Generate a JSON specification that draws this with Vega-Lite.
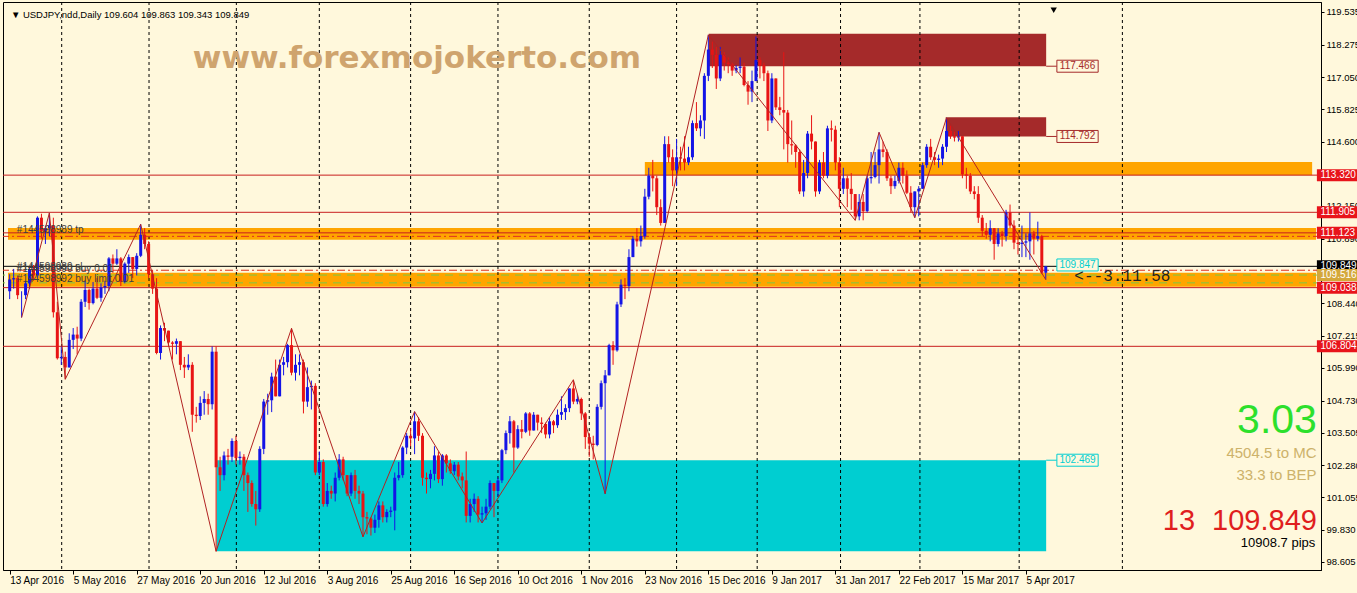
{
"$schema":"https://vega.github.io/schema/vega-lite/v6.json",
"width":1318,"height":568,"autosize":"none",
"padding":{"left":3,"top":2,"right":36,"bottom":23},
"background":"#FFF8DC",
"config":{"view":{"stroke":"#000","strokeWidth":1},"text":{"font":"Liberation Sans"},
 "axis":{"labelOverlap":false,"labelSeparation":0},
 "axisX":{"labelAlign":"left","labelOffset":0,"tickSize":4,"labelPadding":1,"labelFontSize":10,"labelFont":"Liberation Sans","labelColor":"#000","domainColor":"#000","tickColor":"#000","grid":false,"labelOverlap":false,"labelBound":false,"labelFlush":false},
 "axisY":{"tickSize":3,"labelPadding":2,"labelFontSize":9.5,"labelFont":"Liberation Sans","labelColor":"#000","domainColor":"#000","tickColor":"#000","grid":false,"labelOverlap":false,"labelBound":false,"labelFlush":false}},
"datasets":{
"candles":[
{"i":0,"o":108.9,"h":109.55,"l":108.6,"c":109.35},{"i":1,"o":109.35,"h":109.75,"l":109.0,"c":109.4},{"i":2,"o":109.4,"h":109.5,"l":108.6,"c":108.75},{"i":3,"o":108.75,"h":108.9,"l":107.9,"c":108.75},{"i":4,"o":108.75,"h":109.3,"l":108.6,"c":109.2},{"i":5,"o":109.2,"h":109.8,"l":109.0,"c":109.75},{"i":6,"o":109.75,"h":109.9,"l":109.3,"c":109.5},{"i":7,"o":109.5,"h":111.75,"l":109.4,"c":111.7},{"i":8,"o":111.7,"h":111.85,"l":110.9,"c":111.2},{"i":9,"o":111.2,"h":111.4,"l":110.7,"c":111.3},
{"i":10,"o":111.3,"h":111.88,"l":111.0,"c":111.4},{"i":11,"o":111.4,"h":111.7,"l":107.9,"c":108.1},{"i":12,"o":108.1,"h":108.5,"l":106.3,"c":106.35},{"i":13,"o":106.35,"h":106.8,"l":106.1,"c":106.4},{"i":14,"o":106.4,"h":106.6,"l":105.55,"c":106.0},{"i":15,"o":106.0,"h":107.3,"l":106.0,"c":107.05},{"i":16,"o":107.05,"h":107.5,"l":106.7,"c":107.25},{"i":17,"o":107.25,"h":107.55,"l":106.5,"c":107.1},{"i":18,"o":107.1,"h":108.6,"l":107.0,"c":108.5},{"i":19,"o":108.5,"h":109.3,"l":108.3,"c":108.95},
{"i":20,"o":108.95,"h":109.0,"l":108.2,"c":108.45},{"i":21,"o":108.45,"h":109.25,"l":108.4,"c":109.0},{"i":22,"o":109.0,"h":109.4,"l":108.6,"c":108.65},{"i":23,"o":108.65,"h":109.2,"l":108.5,"c":109.05},{"i":24,"o":109.05,"h":109.3,"l":108.8,"c":109.1},{"i":25,"o":109.1,"h":110.2,"l":108.9,"c":110.15},{"i":26,"o":110.15,"h":110.3,"l":109.6,"c":109.95},{"i":27,"o":109.95,"h":110.5,"l":109.9,"c":110.15},{"i":28,"o":110.15,"h":110.2,"l":109.1,"c":109.25},{"i":29,"o":109.25,"h":110.0,"l":109.2,"c":109.95},
{"i":30,"o":109.95,"h":110.3,"l":109.6,"c":110.2},{"i":31,"o":110.2,"h":110.2,"l":109.4,"c":109.75},{"i":32,"o":109.75,"h":110.35,"l":109.5,"c":110.25},{"i":33,"o":110.25,"h":111.45,"l":110.2,"c":111.05},{"i":34,"o":111.05,"h":111.3,"l":110.5,"c":110.7},{"i":35,"o":110.7,"h":110.8,"l":109.4,"c":109.55},{"i":36,"o":109.55,"h":109.7,"l":108.8,"c":109.0},{"i":37,"o":109.0,"h":109.4,"l":106.5,"c":106.55},{"i":38,"o":106.55,"h":107.6,"l":106.3,"c":107.5},{"i":39,"o":107.5,"h":107.7,"l":107.0,"c":107.4},
{"i":40,"o":107.4,"h":107.4,"l":106.8,"c":106.95},{"i":41,"o":106.95,"h":107.0,"l":106.3,"c":106.9},{"i":42,"o":106.9,"h":107.1,"l":106.5,"c":107.0},{"i":43,"o":107.0,"h":107.0,"l":105.9,"c":106.1},{"i":44,"o":106.1,"h":106.4,"l":105.6,"c":106.0},{"i":45,"o":106.0,"h":106.5,"l":105.9,"c":106.1},{"i":46,"o":106.1,"h":106.2,"l":103.55,"c":104.2},{"i":47,"o":104.2,"h":104.5,"l":103.9,"c":104.15},{"i":48,"o":104.15,"h":104.9,"l":104.0,"c":104.65},{"i":49,"o":104.65,"h":105.1,"l":104.2,"c":104.8},
{"i":50,"o":104.8,"h":105.0,"l":104.2,"c":104.6},{"i":51,"o":104.6,"h":106.8,"l":104.4,"c":106.6},{"i":52,"o":106.6,"h":106.8,"l":99.0,"c":102.2},{"i":53,"o":102.2,"h":102.6,"l":101.3,"c":101.9},{"i":54,"o":101.9,"h":102.8,"l":101.7,"c":102.65},{"i":55,"o":102.65,"h":102.9,"l":102.3,"c":102.6},{"i":56,"o":102.6,"h":103.3,"l":102.4,"c":103.2},{"i":57,"o":103.2,"h":103.4,"l":102.3,"c":102.55},{"i":58,"o":102.55,"h":102.8,"l":102.3,"c":102.6},{"i":59,"o":102.6,"h":102.7,"l":101.3,"c":101.9},
{"i":60,"o":101.9,"h":102.0,"l":100.5,"c":101.6},{"i":61,"o":101.6,"h":101.7,"l":100.7,"c":100.8},{"i":62,"o":100.8,"h":101.3,"l":99.98,"c":100.6},{"i":63,"o":100.6,"h":103.0,"l":100.5,"c":102.9},{"i":64,"o":102.9,"h":104.8,"l":102.7,"c":104.7},{"i":65,"o":104.7,"h":105.0,"l":104.2,"c":104.75},{"i":66,"o":104.75,"h":105.8,"l":104.3,"c":105.65},{"i":67,"o":105.65,"h":106.3,"l":104.9,"c":104.9},{"i":68,"o":104.9,"h":106.3,"l":104.9,"c":106.1},{"i":69,"o":106.1,"h":106.4,"l":105.7,"c":106.2},
{"i":70,"o":106.2,"h":106.9,"l":106.0,"c":106.85},{"i":71,"o":106.85,"h":107.49,"l":105.7,"c":105.8},{"i":72,"o":105.8,"h":106.5,"l":105.5,"c":106.1},{"i":73,"o":106.1,"h":106.5,"l":105.7,"c":106.2},{"i":74,"o":106.2,"h":106.3,"l":104.25,"c":104.7},{"i":75,"o":104.7,"h":106.0,"l":104.5,"c":105.25},{"i":76,"o":105.25,"h":105.5,"l":104.4,"c":105.3},{"i":77,"o":105.3,"h":105.4,"l":101.9,"c":102.0},{"i":78,"o":102.0,"h":102.8,"l":101.9,"c":102.4},{"i":79,"o":102.4,"h":102.5,"l":100.7,"c":100.8},
{"i":80,"o":100.8,"h":101.6,"l":100.7,"c":101.3},{"i":81,"o":101.3,"h":101.5,"l":101.0,"c":101.2},{"i":82,"o":101.2,"h":102.0,"l":100.9,"c":101.8},{"i":83,"o":101.8,"h":102.7,"l":101.7,"c":102.5},{"i":84,"o":102.5,"h":102.6,"l":101.7,"c":101.9},{"i":85,"o":101.9,"h":101.9,"l":101.1,"c":101.2},{"i":86,"o":101.2,"h":102.0,"l":101.1,"c":101.9},{"i":87,"o":101.9,"h":102.1,"l":101.0,"c":101.3},{"i":88,"o":101.3,"h":101.5,"l":100.8,"c":101.2},{"i":89,"o":101.2,"h":101.3,"l":99.55,"c":100.3},
{"i":90,"o":100.3,"h":100.5,"l":99.65,"c":100.25},{"i":91,"o":100.25,"h":100.3,"l":99.6,"c":99.9},{"i":92,"o":99.9,"h":100.4,"l":99.7,"c":100.2},{"i":93,"o":100.2,"h":100.9,"l":99.9,"c":100.75},{"i":94,"o":100.75,"h":100.9,"l":100.1,"c":100.3},{"i":95,"o":100.3,"h":100.6,"l":100.1,"c":100.5},{"i":96,"o":100.5,"h":100.7,"l":100.3,"c":100.55},{"i":97,"o":100.55,"h":102.0,"l":99.8,"c":101.8},{"i":98,"o":101.8,"h":102.4,"l":101.7,"c":101.9},{"i":99,"o":101.9,"h":103.0,"l":101.8,"c":102.95},
{"i":100,"o":102.95,"h":103.5,"l":102.7,"c":103.4},{"i":101,"o":103.4,"h":103.7,"l":103.0,"c":103.3},{"i":102,"o":103.3,"h":104.32,"l":102.7,"c":103.95},{"i":103,"o":103.95,"h":104.1,"l":103.2,"c":103.4},{"i":104,"o":103.4,"h":103.5,"l":101.5,"c":101.8},{"i":105,"o":101.8,"h":102.0,"l":101.2,"c":101.75},{"i":106,"o":101.75,"h":102.1,"l":101.4,"c":101.95},{"i":107,"o":101.95,"h":103.0,"l":101.7,"c":102.65},{"i":108,"o":102.65,"h":102.8,"l":101.6,"c":101.75},{"i":109,"o":101.75,"h":102.7,"l":101.5,"c":102.65},
{"i":110,"o":102.65,"h":102.7,"l":102.0,"c":102.35},{"i":111,"o":102.35,"h":102.5,"l":101.95,"c":102.05},{"i":112,"o":102.05,"h":102.4,"l":101.9,"c":102.3},{"i":113,"o":102.3,"h":102.4,"l":101.7,"c":101.85},{"i":114,"o":101.85,"h":102.0,"l":101.4,"c":101.7},{"i":115,"o":101.7,"h":102.8,"l":100.1,"c":100.35},{"i":116,"o":100.35,"h":101.0,"l":100.1,"c":100.8},{"i":117,"o":100.8,"h":101.2,"l":100.5,"c":101.0},{"i":118,"o":101.0,"h":101.1,"l":100.1,"c":100.4},{"i":119,"o":100.4,"h":100.7,"l":100.08,"c":100.45},
{"i":120,"o":100.45,"h":101.0,"l":100.2,"c":100.7},{"i":121,"o":100.7,"h":101.7,"l":100.6,"c":101.6},{"i":122,"o":101.6,"h":101.6,"l":100.3,"c":101.3},{"i":123,"o":101.3,"h":101.8,"l":101.1,"c":101.7},{"i":124,"o":101.7,"h":102.9,"l":101.6,"c":102.85},{"i":125,"o":102.85,"h":103.6,"l":102.7,"c":103.5},{"i":126,"o":103.5,"h":104.15,"l":103.1,"c":103.95},{"i":127,"o":103.95,"h":104.0,"l":102.0,"c":102.95},{"i":128,"o":102.95,"h":103.8,"l":102.9,"c":103.65},{"i":129,"o":103.65,"h":104.0,"l":103.3,"c":103.55},
{"i":130,"o":103.55,"h":104.3,"l":103.5,"c":104.25},{"i":131,"o":104.25,"h":104.3,"l":103.4,"c":103.6},{"i":132,"o":103.6,"h":104.3,"l":103.6,"c":104.2},{"i":133,"o":104.2,"h":104.2,"l":103.6,"c":103.9},{"i":134,"o":103.9,"h":104.1,"l":103.5,"c":103.85},{"i":135,"o":103.85,"h":103.9,"l":103.3,"c":103.45},{"i":136,"o":103.45,"h":104.1,"l":103.3,"c":103.95},{"i":137,"o":103.95,"h":104.0,"l":103.5,"c":103.8},{"i":138,"o":103.8,"h":104.4,"l":103.7,"c":104.2},{"i":139,"o":104.2,"h":104.9,"l":104.0,"c":104.3},
{"i":140,"o":104.3,"h":104.6,"l":104.0,"c":104.45},{"i":141,"o":104.45,"h":105.2,"l":104.3,"c":105.2},{"i":142,"o":105.2,"h":105.53,"l":104.6,"c":104.7},{"i":143,"o":104.7,"h":105.0,"l":104.6,"c":104.8},{"i":144,"o":104.8,"h":104.85,"l":104.0,"c":104.25},{"i":145,"o":104.25,"h":104.3,"l":102.9,"c":103.35},{"i":146,"o":103.35,"h":103.5,"l":102.6,"c":103.1},{"i":147,"o":103.1,"h":103.4,"l":102.5,"c":103.05},{"i":148,"o":103.05,"h":104.6,"l":103.0,"c":104.5},{"i":149,"o":104.5,"h":105.5,"l":104.4,"c":105.4},
{"i":150,"o":105.4,"h":105.9,"l":101.19,"c":105.7},{"i":151,"o":105.7,"h":106.9,"l":105.7,"c":106.85},{"i":152,"o":106.85,"h":107.0,"l":106.1,"c":106.65},{"i":153,"o":106.65,"h":108.5,"l":106.6,"c":108.4},{"i":154,"o":108.4,"h":109.35,"l":108.3,"c":109.15},{"i":155,"o":109.15,"h":109.4,"l":108.6,"c":109.1},{"i":156,"o":109.1,"h":110.5,"l":108.9,"c":110.2},{"i":157,"o":110.2,"h":111.0,"l":110.2,"c":110.9},{"i":158,"o":110.9,"h":111.3,"l":110.6,"c":110.8},{"i":159,"o":110.8,"h":111.4,"l":110.6,"c":111.0},
{"i":160,"o":111.0,"h":112.8,"l":110.9,"c":112.5},{"i":161,"o":112.5,"h":113.6,"l":112.4,"c":113.3},{"i":162,"o":113.3,"h":113.9,"l":112.7,"c":113.2},{"i":163,"o":113.2,"h":113.3,"l":111.8,"c":112.1},{"i":164,"o":112.1,"h":112.4,"l":111.4,"c":111.5},{"i":165,"o":111.5,"h":114.8,"l":111.5,"c":114.5},{"i":166,"o":114.5,"h":114.8,"l":113.8,"c":114.0},{"i":167,"o":114.0,"h":114.3,"l":112.9,"c":113.5},{"i":168,"o":113.5,"h":114.7,"l":112.9,"c":114.0},{"i":169,"o":114.0,"h":114.4,"l":113.5,"c":113.95},
{"i":170,"o":113.95,"h":114.8,"l":113.5,"c":113.8},{"i":171,"o":113.8,"h":114.4,"l":113.7,"c":114.0},{"i":172,"o":114.0,"h":115.4,"l":113.9,"c":115.3},{"i":173,"o":115.3,"h":116.1,"l":115.0,"c":115.1},{"i":174,"o":115.1,"h":115.6,"l":114.8,"c":115.4},{"i":175,"o":115.4,"h":117.2,"l":114.7,"c":117.1},{"i":176,"o":117.1,"h":118.66,"l":116.9,"c":118.1},{"i":177,"o":118.1,"h":118.4,"l":117.4,"c":117.9},{"i":178,"o":117.9,"h":118.2,"l":116.6,"c":117.0},{"i":179,"o":117.0,"h":118.2,"l":116.9,"c":117.9},
{"i":180,"o":117.9,"h":118.0,"l":117.3,"c":117.6},{"i":181,"o":117.6,"h":117.8,"l":117.2,"c":117.55},{"i":182,"o":117.55,"h":117.6,"l":117.1,"c":117.3},{"i":183,"o":117.3,"h":117.5,"l":117.2,"c":117.4},{"i":184,"o":117.4,"h":117.8,"l":117.2,"c":117.45},{"i":185,"o":117.45,"h":117.6,"l":116.7,"c":116.75},{"i":186,"o":116.75,"h":116.9,"l":116.0,"c":116.5},{"i":187,"o":116.5,"h":117.3,"l":116.1,"c":116.9},{"i":188,"o":116.9,"h":118.6,"l":116.9,"c":117.7},{"i":189,"o":117.7,"h":117.8,"l":117.0,"c":117.5},
{"i":190,"o":117.5,"h":117.6,"l":116.9,"c":117.2},{"i":191,"o":117.2,"h":117.3,"l":115.0,"c":115.4},{"i":192,"o":115.4,"h":117.2,"l":115.3,"c":117.0},{"i":193,"o":117.0,"h":117.0,"l":115.8,"c":115.9},{"i":194,"o":115.9,"h":116.3,"l":115.6,"c":115.8},{"i":195,"o":115.8,"h":118.0,"l":114.3,"c":115.7},{"i":196,"o":115.7,"h":115.8,"l":113.8,"c":114.5},{"i":197,"o":114.5,"h":115.4,"l":114.1,"c":114.45},{"i":198,"o":114.45,"h":114.5,"l":113.6,"c":114.2},{"i":199,"o":114.2,"h":114.3,"l":112.6,"c":112.7},
{"i":200,"o":112.7,"h":113.9,"l":112.5,"c":113.4},{"i":201,"o":113.4,"h":115.0,"l":113.2,"c":114.9},{"i":202,"o":114.9,"h":115.6,"l":114.3,"c":114.6},{"i":203,"o":114.6,"h":114.6,"l":112.5,"c":112.7},{"i":204,"o":112.7,"h":113.9,"l":112.6,"c":113.8},{"i":205,"o":113.8,"h":114.2,"l":113.2,"c":113.3},{"i":206,"o":113.3,"h":115.2,"l":113.2,"c":115.1},{"i":207,"o":115.1,"h":115.4,"l":114.6,"c":115.05},{"i":208,"o":115.05,"h":115.2,"l":113.5,"c":113.8},{"i":209,"o":113.8,"h":114.0,"l":112.1,"c":112.8},
{"i":210,"o":112.8,"h":113.6,"l":112.6,"c":113.2},{"i":211,"o":113.2,"h":113.3,"l":112.1,"c":112.8},{"i":212,"o":112.8,"h":113.4,"l":112.0,"c":112.6},{"i":213,"o":112.6,"h":112.6,"l":111.6,"c":111.75},{"i":214,"o":111.75,"h":112.6,"l":111.6,"c":112.3},{"i":215,"o":112.3,"h":112.6,"l":111.6,"c":111.95},{"i":216,"o":111.95,"h":113.3,"l":111.9,"c":113.2},{"i":217,"o":113.2,"h":114.2,"l":113.0,"c":113.25},{"i":218,"o":113.25,"h":114.2,"l":113.2,"c":113.7},{"i":219,"o":113.7,"h":114.95,"l":113.0,"c":114.3},
{"i":220,"o":114.3,"h":114.6,"l":114.0,"c":114.2},{"i":221,"o":114.2,"h":114.3,"l":113.1,"c":113.2},{"i":222,"o":113.2,"h":113.3,"l":112.6,"c":112.9},{"i":223,"o":112.9,"h":113.3,"l":112.8,"c":113.1},{"i":224,"o":113.1,"h":113.8,"l":113.0,"c":113.6},{"i":225,"o":113.6,"h":113.8,"l":113.0,"c":113.3},{"i":226,"o":113.3,"h":113.5,"l":112.6,"c":112.65},{"i":227,"o":112.65,"h":112.9,"l":111.9,"c":112.1},{"i":228,"o":112.1,"h":112.7,"l":111.7,"c":112.7},{"i":229,"o":112.7,"h":112.9,"l":111.75,"c":112.8},
{"i":230,"o":112.8,"h":113.8,"l":112.8,"c":113.7},{"i":231,"o":113.7,"h":114.5,"l":113.6,"c":114.4},{"i":232,"o":114.4,"h":114.7,"l":113.9,"c":114.0},{"i":233,"o":114.0,"h":114.2,"l":113.7,"c":113.9},{"i":234,"o":113.9,"h":114.1,"l":113.6,"c":113.95},{"i":235,"o":113.95,"h":114.5,"l":113.7,"c":114.4},{"i":236,"o":114.4,"h":115.5,"l":114.2,"c":115.0},{"i":237,"o":115.0,"h":115.2,"l":114.7,"c":114.8},{"i":238,"o":114.8,"h":115.0,"l":114.6,"c":114.75},{"i":239,"o":114.75,"h":115.0,"l":114.6,"c":114.8},
{"i":240,"o":114.8,"h":114.8,"l":113.2,"c":113.35},{"i":241,"o":113.35,"h":113.6,"l":112.8,"c":113.3},{"i":242,"o":113.3,"h":113.4,"l":112.6,"c":112.7},{"i":243,"o":112.7,"h":112.9,"l":112.4,"c":112.6},{"i":244,"o":112.6,"h":112.9,"l":111.5,"c":111.7},{"i":245,"o":111.7,"h":111.8,"l":111.0,"c":111.2},{"i":246,"o":111.2,"h":111.5,"l":110.9,"c":111.05},{"i":247,"o":111.05,"h":111.6,"l":110.8,"c":111.3},{"i":248,"o":111.3,"h":111.3,"l":110.1,"c":110.7},{"i":249,"o":110.7,"h":111.3,"l":110.6,"c":111.1},
{"i":250,"o":111.1,"h":111.2,"l":110.6,"c":111.0},{"i":251,"o":111.0,"h":112.0,"l":110.8,"c":111.9},{"i":252,"o":111.9,"h":112.2,"l":111.3,"c":111.4},{"i":253,"o":111.4,"h":111.6,"l":110.5,"c":110.75},{"i":254,"o":110.75,"h":111.0,"l":110.3,"c":110.7},{"i":255,"o":110.7,"h":111.4,"l":110.2,"c":110.75},{"i":256,"o":110.75,"h":111.1,"l":110.2,"c":110.8},{"i":257,"o":110.8,"h":111.9,"l":110.1,"c":111.1},{"i":258,"o":111.1,"h":111.2,"l":110.3,"c":110.9},{"i":259,"o":110.9,"h":111.55,"l":110.8,"c":111.0},
{"i":260,"o":111.0,"h":111.05,"l":109.55,"c":109.6},{"i":261,"o":109.604,"h":109.863,"l":109.343,"c":109.849}
],
"zig":[{"i":3,"p":107.9},{"i":10,"p":111.88},{"i":14,"p":105.55},{"i":33,"p":111.45},{"i":52,"p":99.0},{"i":71,"p":107.49},{"i":89,"p":99.55},{"i":102,"p":104.32},{"i":119,"p":100.08},{"i":142,"p":105.53},{"i":150,"p":101.19},{"i":176,"p":118.66},{"i":213,"p":111.6},{"i":219,"p":114.95},{"i":228,"p":111.7},{"i":236,"p":115.5},{"i":261,"p":109.343}],
"zones":[
{"x1":160,"x2":328.1,"p1":113.32,"p2":113.82,"k":"zone"},
{"x1":-0.425,"x2":329.075,"p1":110.86,"p2":111.31,"k":"zone"},
{"x1":-0.425,"x2":329.075,"p1":109.07,"p2":109.6,"k":"zone"},
{"x1":176.1,"x2":261.1,"p1":117.466,"p2":118.7,"k":"resistance"},
{"x1":235.8,"x2":261.1,"p1":114.792,"p2":115.52,"k":"resistance"},
{"x1":52.1,"x2":261.1,"p1":99.0,"p2":102.469,"k":"support"}
],
"tags":[
{"p":113.32,"t":"113.320","k":"level"},
{"p":111.905,"t":"111.905","k":"level"},
{"p":111.123,"t":"111.123","k":"level"},
{"p":109.849,"t":"109.849","k":"bid"},
{"p":109.516,"t":"109.516","k":"order"},
{"p":109.038,"t":"109.038","k":"level"},
{"p":106.804,"t":"106.804","k":"level"}
]
},
"layer":[
{"data":{"name":"zones"},"mark":{"type":"rect"},
 "encoding":{
  "x":{"field":"x1","type":"quantitative","scale":{"domain":[-0.425,329.075],"nice":false,"zero":false},
   "axis":{"values":[0,16,32,48,64,80,96,112,128,144,160,176,192,208,224,240,256],"tickCount":40,"labelExpr":"['13 Apr 2016','5 May 2016','27 May 2016','20 Jun 2016','12 Jul 2016','3 Aug 2016','25 Aug 2016','16 Sep 2016','10 Oct 2016','1 Nov 2016','23 Nov 2016','15 Dec 2016','9 Jan 2017','31 Jan 2017','22 Feb 2017','15 Mar 2017','5 Apr 2017'][round(datum.value/16)]","title":null,"labelOverlap":false}},
  "x2":{"field":"x2"},
  "y":{"field":"p1","type":"quantitative","scale":{"domain":[98.48,119.72],"nice":false,"zero":false},
   "axis":{"orient":"right","values":[98.605,99.83,101.055,102.28,103.505,104.73,105.99,107.215,108.44,109.665,110.89,112.15,113.375,114.6,115.825,117.05,118.275,119.535],"tickCount":40,"format":".3f","title":null,"labelOverlap":false,"labelSeparation":0}},
  "y2":{"field":"p2"},
  "color":{"field":"k","type":"nominal","legend":null,"scale":{"domain":["zone","resistance","support"],"range":["#FFA500","#A52A2A","#00CED1"]}}
 }},
{"data":{"values":[{"g":13.1},{"g":35.1},{"g":57.1},{"g":78},{"g":101},{"g":123},{"g":146},{"g":168},{"g":188.3},{"g":209.3},{"g":229.3},{"g":254.3},{"g":280.3}]},
 "mark":{"type":"rule","color":"#000","strokeDash":[3,3],"strokeWidth":1},
 "encoding":{"x":{"field":"g","type":"quantitative","scale":{"domain":[-0.425,329.075],"nice":false,"zero":false}}}},
{"data":{"values":[{"p":113.32},{"p":111.905},{"p":111.123},{"p":109.038},{"p":106.804}]},
 "mark":{"type":"rule","color":"#C81E1E","strokeWidth":1},
 "encoding":{"y":{"field":"p","type":"quantitative","scale":{"domain":[98.48,119.72],"nice":false,"zero":false}}}},
{"data":{"values":[{"p":110.99},{"p":109.7}]},
 "mark":{"type":"rule","color":"#E03020","strokeWidth":1,"strokeDash":[8,3,2,3]},
 "encoding":{"y":{"field":"p","type":"quantitative","scale":{"domain":[98.48,119.72],"nice":false,"zero":false}}}},
{"data":{"values":[{"p":109.516},{"p":109.22}]},
 "mark":{"type":"rule","color":"#7CC843","strokeWidth":1,"strokeDash":[8,6]},
 "encoding":{"y":{"field":"p","type":"quantitative","scale":{"domain":[98.48,119.72],"nice":false,"zero":false}}}},
{"data":{"values":[{"p":109.849}]},
 "mark":{"type":"rule","color":"#000","strokeWidth":1},
 "encoding":{"y":{"field":"p","type":"quantitative","scale":{"domain":[98.48,119.72],"nice":false,"zero":false}}}},
{"data":{"name":"candles"},"mark":{"type":"rule","strokeWidth":1},
 "encoding":{
  "x":{"field":"i","type":"quantitative","scale":{"domain":[-0.425,329.075],"nice":false,"zero":false}},
  "y":{"field":"l","type":"quantitative","scale":{"domain":[98.48,119.72],"nice":false,"zero":false}},
  "y2":{"field":"h"},
  "color":{"condition":{"test":"datum.c >= datum.o","value":"#1414E6"},"value":"#E81414"}}},
{"data":{"name":"candles"},"mark":{"type":"bar","size":3,"orient":"vertical"},
 "encoding":{
  "x":{"field":"i","type":"quantitative","scale":{"domain":[-0.425,329.075],"nice":false,"zero":false}},
  "y":{"field":"o","type":"quantitative","scale":{"domain":[98.48,119.72],"nice":false,"zero":false}},
  "y2":{"field":"c"},
  "color":{"condition":{"test":"datum.c >= datum.o","value":"#1414E6"},"value":"#E81414"}}},
{"data":{"name":"zig"},"mark":{"type":"line","color":"#B22222","strokeWidth":1},
 "encoding":{
  "x":{"field":"i","type":"quantitative","scale":{"domain":[-0.425,329.075],"nice":false,"zero":false}},
  "y":{"field":"p","type":"quantitative","scale":{"domain":[98.48,119.72],"nice":false,"zero":false}}}},
{"data":{"values":[{"p":117.466,"k":"resistance"},{"p":114.792,"k":"resistance"},{"p":102.469,"k":"support"}]},
 "mark":{"type":"rule","strokeWidth":1},
 "encoding":{
  "x":{"datum":261.1,"type":"quantitative","scale":{"domain":[-0.425,329.075],"nice":false,"zero":false}},
  "x2":{"datum":263.8},
  "y":{"field":"p","type":"quantitative","scale":{"domain":[98.48,119.72],"nice":false,"zero":false}},
  "color":{"field":"k","type":"nominal","legend":null,"scale":{"domain":["zone","resistance","support"],"range":["#FFA500","#A52A2A","#00CED1"]}}}},
{"data":{"values":[{"p":117.466,"t":"117.466","k":"resistance"},{"p":114.792,"t":"114.792","k":"resistance"},{"p":102.469,"t":"102.469","k":"support"},{"p":109.9,"t":"109.847","k":"support"}]},
 "layer":[
  {"mark":{"type":"bar","orient":"horizontal","size":12,"fill":"#FFF8DC","strokeWidth":1},
   "encoding":{
    "x":{"datum":263.8,"type":"quantitative","scale":{"domain":[-0.425,329.075],"nice":false,"zero":false}},
    "x2":{"datum":274.2},
    "y":{"field":"p","type":"quantitative","scale":{"domain":[98.48,119.72],"nice":false,"zero":false}},
    "stroke":{"field":"k","type":"nominal","legend":null,"scale":{"domain":["zone","resistance","support"],"range":["#FFA500","#A52A2A","#00CED1"]}}}},
  {"mark":{"type":"text","fontSize":10,"align":"center","baseline":"middle","font":"Liberation Sans"},
   "encoding":{
    "x":{"datum":269,"type":"quantitative","scale":{"domain":[-0.425,329.075],"nice":false,"zero":false}},
    "y":{"field":"p","type":"quantitative","scale":{"domain":[98.48,119.72],"nice":false,"zero":false}},
    "text":{"field":"t"},
    "color":{"field":"k","type":"nominal","legend":null,"scale":{"domain":["zone","resistance","support"],"range":["#FFA500","#A52A2A","#00CED1"]}}}}
 ]},
{"data":{"name":"tags"},
 "layer":[
  {"mark":{"type":"bar","orient":"horizontal","size":12},
   "encoding":{
    "x":{"datum":329.3,"type":"quantitative","scale":{"domain":[-0.425,329.075],"nice":false,"zero":false}},
    "x2":{"datum":346},
    "y":{"field":"p","type":"quantitative","scale":{"domain":[98.48,119.72],"nice":false,"zero":false}},
    "fill":{"field":"k","type":"nominal","legend":null,"scale":{"domain":["level","bid","order"],"range":["#E8141B","#000000","#D4A83A"]}}}},
  {"mark":{"type":"text","fontSize":10,"align":"left","baseline":"middle","font":"Liberation Sans","color":"#FFFFFF"},
   "encoding":{
    "x":{"datum":330.2,"type":"quantitative","scale":{"domain":[-0.425,329.075],"nice":false,"zero":false}},
    "y":{"field":"p","type":"quantitative","scale":{"domain":[98.48,119.72],"nice":false,"zero":false}},
    "text":{"field":"t"}}}
 ]},
{"data":{"values":[{"i":102.6,"p":117.74,"t":"www.forexmojokerto.com"}]},
 "mark":{"type":"text","font":"DejaVu Sans","fontWeight":"bold","fontSize":31,"color":"#CFA46E","align":"center","baseline":"middle"},
 "encoding":{"x":{"field":"i","type":"quantitative","scale":{"domain":[-0.425,329.075],"nice":false,"zero":false}},
  "y":{"field":"p","type":"quantitative","scale":{"domain":[98.48,119.72],"nice":false,"zero":false}},"text":{"field":"t"}}},
{"data":{"values":[{"i":0.3,"p":119.42,"t":"▼ USDJPY,ndd,Daily  109.604 109.863 109.343 109.849"}]},
 "mark":{"type":"text","font":"Liberation Sans","fontSize":9.5,"color":"#000","align":"left","baseline":"middle"},
 "encoding":{"x":{"field":"i","type":"quantitative","scale":{"domain":[-0.425,329.075],"nice":false,"zero":false}},
  "y":{"field":"p","type":"quantitative","scale":{"domain":[98.48,119.72],"nice":false,"zero":false}},"text":{"field":"t"}}},
{"data":{"values":[{"i":329.3,"p":103.98,"t":"3.03"}]},
 "mark":{"type":"text","font":"Liberation Sans","fontSize":41,"color":"#2CE02C","align":"right","baseline":"middle"},
 "encoding":{"x":{"field":"i","type":"quantitative","scale":{"domain":[-0.425,329.075],"nice":false,"zero":false}},
  "y":{"field":"p","type":"quantitative","scale":{"domain":[98.48,119.72],"nice":false,"zero":false}},"text":{"field":"t"}}},
{"data":{"values":[{"i":329.2,"p":102.74,"t":"4504.5  to MC"},{"i":329.2,"p":101.92,"t":"33.3  to BEP"}]},
 "mark":{"type":"text","font":"Liberation Sans","fontSize":15,"color":"#CDB26A","align":"right","baseline":"middle"},
 "encoding":{"x":{"field":"i","type":"quantitative","scale":{"domain":[-0.425,329.075],"nice":false,"zero":false}},
  "y":{"field":"p","type":"quantitative","scale":{"domain":[98.48,119.72],"nice":false,"zero":false}},"text":{"field":"t"}}},
{"data":{"values":[{"i":298.6,"p":100.15,"t":"13"},{"i":329.3,"p":100.15,"t":"109.849"}]},
 "mark":{"type":"text","font":"Liberation Sans","fontSize":29,"color":"#E01E1E","align":"right","baseline":"middle"},
 "encoding":{"x":{"field":"i","type":"quantitative","scale":{"domain":[-0.425,329.075],"nice":false,"zero":false}},
  "y":{"field":"p","type":"quantitative","scale":{"domain":[98.48,119.72],"nice":false,"zero":false}},"text":{"field":"t"}}},
{"data":{"values":[{"i":328.9,"p":99.3,"t":"10908.7 pips"}]},
 "mark":{"type":"text","font":"Liberation Sans","fontSize":13,"color":"#000","align":"right","baseline":"middle"},
 "encoding":{"x":{"field":"i","type":"quantitative","scale":{"domain":[-0.425,329.075],"nice":false,"zero":false}},
  "y":{"field":"p","type":"quantitative","scale":{"domain":[98.48,119.72],"nice":false,"zero":false}},"text":{"field":"t"}}},
{"data":{"values":[{"i":268.2,"p":109.47,"t":"<--3.11.58"}]},
 "mark":{"type":"text","font":"Liberation Mono","fontSize":16,"color":"#222222","align":"left","baseline":"middle"},
 "encoding":{"x":{"field":"i","type":"quantitative","scale":{"domain":[-0.425,329.075],"nice":false,"zero":false}},
  "y":{"field":"p","type":"quantitative","scale":{"domain":[98.48,119.72],"nice":false,"zero":false}},"text":{"field":"t"}}},
{"data":{"values":[{"i":1.8,"p":111.23,"t":"#144598989 tp"},{"i":1.8,"p":109.82,"t":"#144598989 sl"},{"i":1.8,"p":109.74,"t":"#144598990 buy 0.01"},{"i":1.8,"p":109.36,"t":"#144598992 buy limit 0.01"}]},
 "mark":{"type":"text","font":"Liberation Sans","fontSize":10,"color":"#404040","align":"left","baseline":"middle"},
 "encoding":{"x":{"field":"i","type":"quantitative","scale":{"domain":[-0.425,329.075],"nice":false,"zero":false}},
  "y":{"field":"p","type":"quantitative","scale":{"domain":[98.48,119.72],"nice":false,"zero":false}},"text":{"field":"t"}}},
{"data":{"values":[{"i":263,"p":119.6}]},
 "mark":{"type":"point","shape":"triangle-down","filled":true,"color":"#000","size":40,"opacity":1},
 "encoding":{"x":{"field":"i","type":"quantitative","scale":{"domain":[-0.425,329.075],"nice":false,"zero":false}},
  "y":{"field":"p","type":"quantitative","scale":{"domain":[98.48,119.72],"nice":false,"zero":false}}}}
]
}
